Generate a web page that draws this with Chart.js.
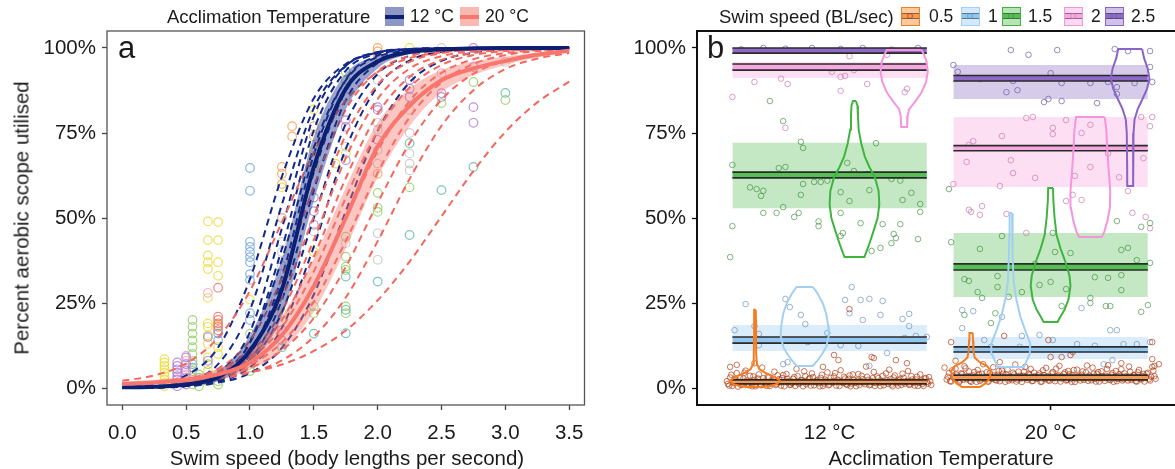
<!DOCTYPE html>
<html>
<head>
<meta charset="utf-8">
<script src="https://cdn.jsdelivr.net/npm/chart.js@4.4.1/dist/chart.umd.min.js"></script>
<style>
  html, body { margin: 0; padding: 0; background: #fff; overflow: hidden; width: 1175px; height: 469px; }
  body { position: relative; font-family: "Liberation Sans", Arial, Helvetica, sans-serif; color: #1a1a1a; }
  canvas { position: absolute; top: 0; }
  #chartA { left: 0; }
  #chartB { left: 590px; }
  .ltitle { position: absolute; white-space: nowrap; font-size: 18.5px; line-height: 19px; }
  .ltxt { position: absolute; white-space: nowrap; font-size: 17.5px; line-height: 19px; }
  .axt { position: absolute; white-space: nowrap; font-size: 20.5px; line-height: 21px; transform: translateX(-50%); }
  .ytitle { position: absolute; white-space: nowrap; font-size: 20.5px; line-height: 21px; transform: translate(-50%, -50%) rotate(-90deg); }
  .tag { position: absolute; font-size: 31px; line-height: 31px; }
  .key { position: absolute; width: 19px; height: 19px; box-sizing: border-box; }
  .key .bar { position: absolute; left: 0; right: 0; }
  .key .dot { position: absolute; left: 5px; top: 5px; width: 4px; height: 4px; border-radius: 50%; border: 1px solid; box-sizing: content-box; }
</style>
</head>
<body>
<canvas id="chartA" width="590" height="469"></canvas>
<canvas id="chartB" width="597" height="469"></canvas>

<div class="ltitle" style="left:167px; top:7px;">Acclimation Temperature</div>
<div class="key" style="left:385px; top:7px; background:#8d97c4;"><div class="bar" style="top:7.5px; height:4px; background:#0b2072;"></div></div>
<div class="ltxt" style="left:410px; top:7px;">12 °C</div>
<div class="key" style="left:460px; top:7px; background:#f9b9b3;"><div class="bar" style="top:7.5px; height:4px; background:#f8766d;"></div></div>
<div class="ltxt" style="left:485px; top:7px;">20 °C</div>

<div class="ltitle" style="left:719px; top:7px;">Swim speed (BL/sec)</div>
<div id="speedKeys"></div>

<div class="tag" style="left:118px; top:32px;">a</div>
<div class="tag" style="left:707px; top:32px;">b</div>

<div class="ytitle" style="left:21px; top:218px;">Percent aerobic scope utilised</div>
<div class="axt" style="left:347px; top:447px;">Swim speed (body lengths per second)</div>
<div class="axt" style="left:941px; top:447px;">Acclimation Temperature</div>

<script>
// ---------- shared ticks ----------
const PCT_TICKS = [0, 25, 50, 75, 100];
const PCT_TICK_LABELS = ['0%', '25%', '50%', '75%', '100%'];

// ---------- panel a: swim speed vs aerobic scope ----------
const SPEED_TICKS = [0, 0.5, 1, 1.5, 2, 2.5, 3, 3.5];
const SPEED_TICK_LABELS = ['0.0', '0.5', '1.0', '1.5', '2.0', '2.5', '3.0', '3.5'];
const SPEED_GRID = [0, 0.25, 0.5, 0.75, 1, 1.25, 1.5, 1.75, 2, 2.25, 2.5, 2.75, 3, 3.25, 3.5];

// population curves with confidence ribbons (percent)
const MEAN_12 = [0.2, 0.4, 1.0, 3.2, 11, 29, 65, 88, 96, 98.8, 99.6, 99.9, 100, 100, 100];
const LOW_12  = [0.1, 0.2, 0.6, 2.0, 7.5, 21, 55, 82, 94, 98.2, 99.3, 99.8, 100, 100, 100];
const HIGH_12 = [0.4, 0.8, 1.7, 5.0, 15.5, 38, 74, 92.5, 97.6, 99.3, 99.8, 100, 100, 100, 100];
const MEAN_20 = [1.2, 1.6, 2.4, 4.0, 7.5, 15.5, 30, 50, 71, 83, 90.5, 94, 96.2, 98, 99.2];
const LOW_20  = [0.7, 1.0, 1.6, 2.8, 5.3, 11, 22.5, 41, 62, 77, 87, 92, 95, 97.3, 98.8];
const HIGH_20 = [1.8, 2.4, 3.4, 5.6, 10.5, 21, 38, 59, 78, 88, 93.5, 96, 97.5, 98.7, 99.5];

// individual fish curves
const FISH_12 = [
  [0.3, 1.1, 3.7, 11.9, 32.1, 62.2, 85.2, 95.3, 98.6, 99.6, 99.9, 100, 100, 100, 100],
  [0.1, 0.5, 1.9, 7.0, 23, 54, 82.3, 94.8, 98.7, 99.7, 99.9, 100, 100, 100, 100],
  [0.05, 0.2, 1.0, 4.3, 16.5, 47, 79.9, 94.7, 98.8, 99.7, 100, 100, 100, 100, 100],
  [0.04, 0.2, 0.8, 3.4, 13.5, 41, 75.8, 93.3, 98.4, 99.6, 99.9, 100, 100, 100, 100],
  [0.06, 0.25, 1.0, 3.7, 13.3, 37.8, 70.7, 90.5, 97.4, 99.3, 99.8, 100, 100, 100, 100],
  [0.03, 0.12, 0.55, 2.4, 9.8, 32.7, 68.6, 90.7, 97.8, 99.5, 99.9, 100, 100, 100, 100],
  [0.05, 0.18, 0.7, 2.7, 10, 30.4, 63.4, 87.3, 96.4, 99.1, 99.8, 100, 100, 100, 100],
  [0.04, 0.15, 0.56, 2.2, 8.2, 25.9, 58.2, 84.6, 95.6, 98.9, 99.7, 99.9, 100, 100, 100],
  [0.06, 0.19, 0.67, 2.3, 7.6, 22.3, 50, 77.7, 92.4, 97.7, 99.3, 99.8, 100, 100, 100],
  [0.06, 0.18, 0.6, 1.9, 6.1, 17.7, 41.6, 70.3, 88.7, 96.3, 98.9, 99.7, 99.9, 100, 100],
  [0.07, 0.2, 0.57, 1.6, 4.4, 11.8, 27.5, 52, 75.6, 89.9, 96.2, 98.6, 99.5, 99.8, 100]
];
const FISH_20 = [
  [2.1, 3.7, 7.2, 14.8, 28.6, 48.8, 69.3, 84.5, 92.9, 97, 98.7, 99.4, 99.8, 99.9, 100],
  [1.2, 1.5, 2.6, 5.7, 14, 32.4, 59.3, 81.8, 93.2, 97.7, 99.2, 99.7, 99.9, 100, 100],
  [1.2, 1.5, 2.5, 5.1, 11.8, 26.6, 50.5, 74.4, 89.2, 95.9, 98.5, 99.5, 99.8, 99.9, 100],
  [1.2, 1.5, 2.4, 4.6, 10.2, 22.6, 43.6, 67.6, 85, 93.9, 97.6, 99.1, 99.7, 99.9, 100],
  [1.2, 1.5, 2.3, 4.4, 9.3, 20, 38.6, 61.7, 80.6, 91.5, 96.5, 98.6, 99.4, 99.8, 99.9],
  [1.2, 1.6, 2.4, 4.3, 8.6, 17.9, 34.3, 55.9, 75.6, 88.4, 95, 97.9, 99.1, 99.6, 99.85],
  [1.3, 1.6, 2.4, 4.1, 7.9, 15.9, 30, 49.7, 69.7, 84.4, 92.7, 96.7, 98.5, 99.4, 99.7],
  [1.2, 1.5, 2.2, 3.7, 6.8, 13.4, 25.4, 43.2, 63.3, 79.6, 89.9, 95.3, 97.9, 99.1, 99.6],
  [1.2, 1.5, 2.1, 3.4, 5.9, 11.1, 20.6, 35.6, 54.4, 72, 84.8, 92.4, 96.3, 98.3, 99.2],
  [1.2, 1.4, 1.8, 2.7, 4.6, 8.1, 15.1, 26.6, 43.2, 61.5, 77.1, 87.6, 93.8, 96.9, 98.5],
  [1.4, 1.7, 2.2, 3.1, 4.6, 6.9, 10.9, 16.9, 25.8, 37.2, 50.5, 63.8, 75.3, 84, 90.1]
];

// measured trials [speed, percent], grouped by fish colour
const TRIALS_YELLOW = [[0.33,0.5],[0.33,1.5],[0.33,2.5],[0.33,3.5],[0.33,4.5],[0.33,5.5],[0.33,6.5],[0.33,7.5],[0.33,8.5],
  [0.67,49],[0.67,43.5],[0.67,39],[0.67,37],[0.67,35],[0.67,26.5],[0.67,19],[0.67,18],[0.67,15.5],[0.67,13],[0.67,9],[0.67,5],
  [0.75,48.8],[0.75,43.5],[0.75,37],[0.75,33],[0.75,18.5],[0.75,12],[0.75,10],
  [1.0,26],[1.25,59],[1.25,50],[1.25,22],[1.5,82],[1.5,70],[1.5,67],[1.5,65],[1.5,40],[1.75,69],[1.67,66],[2.25,100]];
const TRIALS_ORANGE = [[1.25,65],[1.25,63],[1.25,60],[1.33,77],[1.33,74],[1.5,77],[1.5,74],[2.0,100],[2.0,99],[2.0,97.5],[2.0,63]];
const TRIALS_BLUE = [[0.55,6],[0.55,7],[0.6,3],[0.75,16],[0.75,14],[1.0,64.7],[1.0,58],[1.0,43],[1.0,41.5],[1.0,40],[1.0,38.5],
  [1.0,37],[1.0,33.5],[1.0,31.8],[1.0,22],[1.0,20]];
const TRIALS_GREEN = [[0.55,1],[0.55,3],[0.55,5],[0.55,8],[0.55,10],[0.55,12],[0.55,14],[0.55,16],[0.55,18],[0.55,20],
  [0.6,0.5],[0.6,2],[0.6,4],[0.67,7],[0.67,2],[0.75,4],[0.75,2],[0.75,1],[1.0,16],[1.0,6],[1.0,5],[1.5,24],[1.5,22],
  [1.75,93],[1.75,90.6],[1.75,44.5],[1.75,38.6],[1.75,35.7],[1.75,34.7],[1.75,24],[1.75,22],[2.0,57.4],[2.0,53],[2.0,51.8],
  [2.25,59],[2.5,83.8],[2.75,90],[3.0,84.7]];
const TRIALS_PURPLE = [[0.43,0.5],[0.43,1.5],[0.43,2.5],[0.43,3.5],[0.43,4.5],[0.43,5.5],[0.43,6.5],[0.43,7.5],
  [0.5,1],[0.5,3],[0.5,5],[0.5,7],[0.5,9],[0.67,15],[0.67,8],[1.0,10],[1.25,17],[1.25,14],[1.5,56],[1.5,52],[1.5,48],
  [1.75,78.8],[1.75,76.8],[1.75,67],[2.0,82.6],[2.0,81.8],[2.0,73],[2.25,90.6],[2.25,88],[2.25,85.6],[2.5,86.7],[2.5,85.6],
  [2.75,100],[2.75,94.4],[2.75,82.6],[2.75,78]];
const TRIALS_PINK = [[0.5,2],[0.5,4],[0.5,6],[0.5,8],[0.5,9.5],[0.67,28],[1.25,50],[2.5,92.6]];
const TRIALS_TEAL = [[1.25,12],[1.5,16],[1.75,32.8],[1.75,23],[1.75,16.1],[2.0,31.3],[2.25,72],[2.25,45],[2.5,58.2],[2.75,65],[3.0,86.8]];
const TRIALS_GREY = [[1.25,43],[1.25,40],[1.25,36],[1.5,46],[1.75,85.6],[1.75,71],[1.75,42.6],[2.0,90.6],[2.0,78],[2.0,76],
  [2.0,70],[2.0,66],[2.0,45.5],[2.0,37.7],[2.25,81.8],[2.25,75],[2.25,69],[2.25,66],[2.25,64],[2.5,100],[3.0,95.9]];
const TRIALS_RED = [[0.75,29.5],[0.75,21],[0.75,20],[0.75,19],[0.75,18],[0.75,17]];

// ---------- panel b: acclimation temperature x swim speed ----------
const TEMPS = ['12 °C', '20 °C'];
const SWIM_SPEEDS = ['0.5', '1', '1.5', '2', '2.5'];
// mean confidence band and spread band per swim speed (percent)
const MEAN_CI_12 = [[1.2,2.4],[13.2,15.0],[61.8,63.5],[93.5,95.3],[98.5,100]];
const SPREAD_12  = [[0.6,3.0],[10.9,18.5],[52.9,72.1],[91.2,95.9],[98.5,100]];
const MEAN_CI_20 = [[2.4,3.8],[10.6,12.1],[34.7,36.5],[69.8,71.3],[90.3,91.9]];
const SPREAD_20  = [[1.8,4.4],[8.5,15.0],[26.8,45.6],[59.1,79.7],[85.0,95.0]];

// violin outlines: [percent, relative half-width]; no violin for 2.5 at 12 °C
const VIOLIN_12 = [
  [[23,0.03],[20,0.04],[15,0.04],[10,0.05],[7,0.08],[5.5,0.18],[4.5,0.4],[3.5,0.72],[2.5,0.95],[2,1.0],[1.2,0.9],[0.6,0.6],[0.3,0.35]],
  [[29.7,0.33],[28,0.5],[25,0.72],[22,0.86],[18,0.95],[15.5,0.97],[12,0.86],[10,0.7],[8,0.5],[6.5,0.32]],
  [[84.4,0.06],[83,0.12],[80,0.14],[76,0.17],[72,0.27],[68,0.42],[65,0.6],[62,0.82],[58,0.97],[54,1.0],[50,0.93],[46,0.76],[42,0.58],[38.5,0.4]],
  [[99.4,0.7],[98,0.8],[96,0.9],[93,0.95],[90,0.88],[87,0.7],[84,0.42],[82,0.2],[80,0.14],[76.8,0.12]],
  null
];
const VIOLIN_20 = [
  [[16.2,0.08],[14,0.1],[11,0.12],[9,0.18],[7.5,0.45],[6.5,0.8],[5,1.0],[3,0.95],[1.5,0.75],[0.3,0.45]],
  [[51.5,0.06],[45,0.08],[38,0.1],[31,0.15],[26,0.28],[21,0.48],[17,0.72],[13,0.98],[10,0.95],[8,0.8],[6.2,0.65]],
  [[58.8,0.12],[55,0.14],[50,0.2],[45,0.3],[41,0.5],[37,0.75],[33,0.95],[30,1.0],[26,0.9],[23,0.7],[21,0.5],[19.4,0.35]],
  [[79.7,0.72],[76,0.8],[70,0.85],[64,0.92],[58,1.0],[53,0.98],[49,0.85],[46,0.7],[44.4,0.57]],
  [[99.7,0.6],[97,0.7],[94,0.88],[91,0.97],[88,0.85],[85,0.62],[82,0.38],[79,0.22],[75,0.17],[65,0.15],[59.4,0.15]]
];

// individual trials [temperature axis position, percent] per swim speed
const OBS_12_SPEED05 = [
  [0.54,1.2],[0.55,3.1],[0.56,0.6],[0.57,2.2],[0.58,4.4],[0.59,1.6],[0.60,0.9],[0.61,2.8],[0.62,5.1],[0.63,1.3],[0.64,3.6],[0.65,0.5],
  [0.66,2.4],[0.67,1.8],[0.68,4.0],[0.69,0.8],[0.70,2.9],[0.71,1.4],[0.72,3.3],[0.73,0.6],[0.74,2.0],[0.75,4.8],[0.76,1.1],[0.77,2.6],
  [0.78,0.7],[0.79,3.8],[0.80,1.9],[0.81,2.7],[0.82,0.9],[0.83,1.5],[0.84,3.2],[0.85,5.6],[0.86,1.2],[0.87,2.3],[0.88,0.5],[0.89,3.5],
  [0.90,1.7],[0.91,2.9],[0.92,4.3],[0.93,0.8],[0.94,2.1],[0.95,1.4],[0.96,3.0],[0.97,0.6],[0.98,2.5],[0.99,4.6],[1.00,1.0],[1.01,1.9],
  [1.02,3.4],[1.03,0.7],[1.04,2.2],[1.05,5.2],[1.06,1.5],[1.07,2.8],[1.08,0.9],[1.09,3.7],[1.10,1.3],[1.11,2.4],[1.12,0.5],[1.13,4.1],
  [1.14,1.8],[1.15,2.6],[1.16,1.1],[1.17,3.3],[1.18,0.8],[1.19,2.0],[1.20,4.7],[1.21,1.4],[1.22,2.9],[1.23,0.6],[1.24,3.6],[1.25,1.7],
  [1.26,2.3],[1.27,5.4],[1.28,1.0],[1.29,3.1],[1.30,1.9],[1.31,0.7],[1.32,2.7],[1.33,4.2],[1.34,1.3],[1.35,2.1],[1.36,0.9],[1.37,3.5],
  [1.38,1.6],[1.39,2.5],[1.40,0.6],[1.41,4.0],[1.42,1.2],[1.43,2.8],[1.44,1.8],[1.45,3.2],[1.46,0.9],
  [0.535,2.0],[0.545,0.7],[0.555,3.9],[0.565,1.5],[0.575,2.6],[0.585,0.4],[0.595,3.0],[0.605,1.1],[0.615,4.5],[0.625,2.2],[0.635,0.8],
  [0.645,1.6],[0.655,3.4],[0.665,0.5],[0.675,2.8],[0.685,1.2],[0.695,6.0],[0.705,1.9],[0.715,0.6],[0.725,3.1],[0.735,1.4],[0.745,2.4],
  [0.755,0.9],[0.765,3.7],[0.775,1.7],[0.785,2.9],[0.795,0.5],[0.805,4.1],[0.815,2.0],[0.825,1.0],[0.835,2.7],[0.845,0.6],[0.855,3.5],
  [0.865,1.5],[0.875,2.3],[0.885,4.9],[0.895,1.1],[0.905,2.6],[0.915,0.7],[0.925,3.2],[0.935,1.8],[0.945,2.4],[0.955,0.5],[0.965,3.9],
  [0.975,1.3],[0.985,2.1],[0.995,0.8],[1.005,3.0],[1.015,1.6],[1.025,4.4],[1.035,2.5],[1.045,0.6],[1.055,1.9],[1.065,3.3],[1.075,1.1],
  [1.085,2.7],[1.095,0.5],[1.105,4.0],[1.115,1.5],[1.125,2.2],[1.135,0.9],[1.145,3.6],[1.155,1.7],[1.165,6.3],[1.175,2.4],[1.185,1.0],
  [1.195,2.9],[1.205,0.6],[1.215,3.4],[1.225,1.6],[1.235,2.1],[1.245,0.8],[1.255,4.3],[1.265,1.2],[1.275,2.6],[1.285,0.5],[1.295,3.7],
  [1.305,1.4],[1.315,2.3],[1.325,0.9],[1.335,3.0],[1.345,1.8],[1.355,5.0],[1.365,1.1],[1.375,2.5],[1.385,0.7],[1.395,3.3],[1.405,1.5],
  [1.415,2.2],[1.425,0.6],[1.435,2.9],[1.445,1.3],[1.455,2.0],
  [1.02,9.7],[1.04,8.2],[1.19,9.1],[1.20,8.8],[1.09,23.2],[1.30,8.2],[1.35,7.3],[0.97,6.2],[0.66,7.3],[0.55,6.2],[0.58,6.8]
];
const OBS_12_SPEED1 = [[1.10,29.7],[1.07,25.9],[1.14,25.9],[1.18,26.2],[1.24,25.6],[0.62,24.7],[0.80,26.2],[0.82,23.8],[0.87,21.5],
  [0.89,18.8],[0.57,17],[0.66,18.2],[0.68,15.9],[0.68,12.6],[1.09,22],[1.15,20],[1.23,21.5],[1.33,20.3],[1.36,21.8],[1.36,18.2],
  [1.34,14.7],[1.39,15.3],[1.44,15],[0.90,13.5],[0.91,13.8],[0.99,16.2],[1.05,12.6],[1.13,12.4],[1.26,10.3],[0.79,7],[0.81,7.6],[1.18,6.5]];
const OBS_12_SPEED15 = [[0.73,84.4],[0.79,78.5],[0.87,72.4],[0.88,70.6],[1.21,72],[0.56,65.6],[0.77,64.7],[0.80,65],[1.08,66.2],
  [1.11,63.8],[1.17,62.9],[1.23,62.6],[1.28,61.5],[1.32,61],[0.64,59],[0.67,58.5],[0.70,58],[0.69,56.5],[0.88,60],[0.93,60.6],
  [0.96,60.6],[0.99,61],[0.87,56.8],[1.05,57.6],[1.09,55],[1.18,58.2],[1.33,55.3],[1.37,57.4],[1.41,54.1],[1.41,51.8],[0.70,51.5],
  [0.76,51.5],[0.79,53.2],[0.86,51.5],[0.84,50.3],[1.05,51.5],[0.56,47.6],[0.55,38.5],[0.95,49],[0.95,47.6],[1.14,48.5],[1.24,48.2],
  [1.32,48.2],[1.06,45.6],[1.05,44.7],[1.29,45.3],[1.30,44.1],[1.40,43.8],[1.28,42.6],[1.19,40.3],[1.23,41.2]];
const OBS_12_SPEED2 = [[1.09,97.6],[1.26,98],[1.01,94],[1.01,93],[1.05,91.5],[1.07,91.8],[1.11,93.5],[0.66,90],[0.78,91],[0.81,89.4],
  [0.56,85.6],[1.05,87.4],[1.17,89.4],[1.34,87],[1.35,88],[0.80,76.5],[1.24,99.2]];
const OBS_12_SPEED25 = [[0.6,99.6],[0.7,100],[0.8,99.8],[0.92,100],[1.05,99.7],[1.15,100],[1.28,99.5],[1.4,100]];

const OBS_20_SPEED05 = [
  [1.53,2.5],[1.54,4.4],[1.55,1.9],[1.56,3.5],[1.57,5.7],[1.58,2.9],[1.59,2.2],[1.60,4.1],[1.61,6.4],[1.62,2.6],[1.63,4.9],[1.64,1.8],
  [1.65,3.7],[1.66,3.1],[1.67,5.3],[1.68,2.1],[1.69,4.2],[1.70,2.7],[1.71,4.6],[1.72,1.9],[1.73,3.3],[1.74,6.1],[1.75,2.4],[1.76,3.9],
  [1.77,2.0],[1.78,5.1],[1.79,3.2],[1.80,4.0],[1.81,2.2],[1.82,2.8],[1.83,4.5],[1.84,6.9],[1.85,2.5],[1.86,3.6],[1.87,1.8],[1.88,4.8],
  [1.89,3.0],[1.90,4.2],[1.91,5.6],[1.92,2.1],[1.93,3.4],[1.94,2.7],[1.95,4.3],[1.96,1.9],[1.97,3.8],[1.98,5.9],[1.99,2.3],[2.00,3.2],
  [2.01,4.7],[2.02,2.0],[2.03,3.5],[2.04,6.5],[2.05,2.8],[2.06,4.1],[2.07,2.2],[2.08,5.0],[2.09,2.6],[2.10,3.7],[2.11,1.8],[2.12,5.4],
  [2.13,3.1],[2.14,3.9],[2.15,2.4],[2.16,4.6],[2.17,2.1],[2.18,3.3],[2.19,6.0],[2.20,2.7],[2.21,4.2],[2.22,1.9],[2.23,4.9],[2.24,3.0],
  [2.25,3.6],[2.26,6.7],[2.27,2.3],[2.28,4.4],[2.29,3.2],[2.30,2.0],[2.31,4.0],[2.32,5.5],[2.33,2.6],[2.34,3.4],[2.35,2.2],[2.36,4.8],
  [2.37,2.9],[2.38,3.8],[2.39,1.9],[2.40,5.3],[2.41,2.5],[2.42,4.1],[2.43,3.1],[2.44,4.5],[2.45,2.2],[2.46,6.2],[2.47,3.5],
  [1.535,3.3],[1.545,2.0],[1.555,5.2],[1.565,2.8],[1.575,3.9],[1.585,1.7],[1.595,4.3],[1.605,2.4],[1.615,5.8],[1.625,3.5],[1.635,2.1],
  [1.645,2.9],[1.655,4.7],[1.665,1.8],[1.675,4.1],[1.685,2.5],[1.695,7.0],[1.705,3.2],[1.715,1.9],[1.725,4.4],[1.735,2.7],[1.745,3.7],
  [1.755,2.2],[1.765,5.0],[1.775,3.0],[1.785,4.2],[1.795,1.8],[1.805,5.4],[1.815,3.3],[1.825,2.3],[1.835,4.0],[1.845,1.9],[1.855,4.8],
  [1.865,2.8],[1.875,3.6],[1.885,6.2],[1.895,2.4],[1.905,3.9],[1.915,2.0],[1.925,4.5],[1.935,3.1],[1.945,3.7],[1.955,1.8],[1.965,5.2],
  [1.975,2.6],[1.985,3.4],[1.995,2.1],[2.005,4.3],[2.015,2.9],[2.025,5.7],[2.035,3.8],[2.045,1.9],[2.055,3.2],[2.065,4.6],[2.075,2.4],
  [2.085,4.0],[2.095,1.8],[2.105,5.3],[2.115,2.8],[2.125,3.5],[2.135,2.2],[2.145,4.9],[2.155,3.0],[2.165,6.6],[2.175,3.7],[2.185,2.3],
  [2.195,4.2],[2.205,1.9],[2.215,4.7],[2.225,2.9],[2.235,3.4],[2.245,2.1],[2.255,5.6],[2.265,2.5],[2.275,3.9],[2.285,1.8],[2.295,5.0],
  [2.305,2.7],[2.315,3.6],[2.325,2.2],[2.335,4.3],[2.345,3.1],[2.355,6.3],[2.365,2.4],[2.375,3.8],[2.385,2.0],[2.395,4.6],[2.405,2.8],
  [2.415,3.5],[2.425,1.9],[2.435,4.2],[2.445,2.6],[2.455,3.3],[2.465,5.1],[2.475,2.7],
  [1.79,15.3],[1.99,14.1],[1.55,13.5],[2.46,13.5],[2.09,9.7],[2.05,9.1],[2.10,10.6],[2.0,9.1],[2.32,7.3],[2.47,6.5],[1.77,7.6],
  [2.46,8.5],[1.57,8.0],[2.49,7.0],[1.52,6.0]
];
const OBS_20_SPEED1 = [[1.60,22.9],[1.65,22.6],[1.60,17.6],[1.78,20.9],[1.87,15.3],[1.70,14.1],[1.73,12.1],[1.86,12.1],[1.95,15.6],
  [2.01,14.1],[2.12,12.9],[2.20,12.4],[2.14,23.5],[2.27,17],[2.30,17],[2.33,12.9],[2.39,12.9],[2.45,13.5],[2.28,8.2],[2.24,7]];
const OBS_20_SPEED15 = [[1.54,58.5],[1.55,42.9],[1.68,40.9],[1.61,32],[1.63,31.5],[1.67,28.2],[1.69,26.5],[1.76,29.7],[1.76,32.9],
  [1.81,26.8],[1.87,28.2],[1.95,30.3],[2.0,31.2],[2.0,35.6],[2.02,40],[2.01,45.6],[2.09,39.7],[2.07,29.1],[1.93,36.5],[2.05,24.1],
  [2.18,26.5],[2.18,25],[2.20,32.6],[2.26,32.4],[2.32,33.2],[2.32,28.8],[2.32,40.6],[2.35,41.2],[2.39,37.6],[2.45,36.8],[2.25,24.1],
  [2.27,24.1],[2.41,22.4],[2.44,24.4],[2.41,47.4],[2.45,48.5],[2.30,49.1],[1.78,44.7],[1.75,22],[1.73,19.1],[1.61,21.5]];
const OBS_20_SPEED2 = [[1.89,79.4],[1.92,79.7],[2.07,78.8],[2.18,77.4],[2.41,79.7],[2.46,79.7],[2.45,77],[2.01,76.5],[2.01,74.7],
  [2.14,75],[1.78,74.1],[1.65,72.6],[1.63,71.5],[1.62,66.5],[1.82,67],[1.83,63.2],[1.93,61.8],[2.11,62.4],[2.18,65],[2.31,62],
  [2.26,69],[2.42,67.6],[1.77,59.4],[1.56,60],[2.10,56.8],[2.07,55],[2.14,55.3],[2.35,57.9],[1.63,52.4],[1.64,51.8],[1.69,53.5],
  [1.68,50.9],[2.37,51.5],[2.43,50.3],[1.80,51.2],[1.89,45.6],[2.45,47]];
const OBS_20_SPEED25 = [[1.82,99.4],[1.90,98],[2.03,99.4],[2.29,99.7],[2.35,99.1],[2.45,99.1],[1.56,95],[1.58,93],[1.68,90.9],
  [1.83,90.3],[2.0,92.6],[2.05,89.7],[2.18,89.7],[2.26,90],[2.30,88.5],[2.30,86.5],[2.38,89.7],[2.45,94.4],[2.46,90],[1.80,87],
  [1.85,87.6],[1.97,84.1],[1.99,85],[2.05,84.4],[2.21,83.8]];

// ---------- styling ----------
const FONT = '"Liberation Sans", Arial, Helvetica, sans-serif';
const INK = '#1a1a1a';
const NAVY = '#0b2072', NAVY_DASH = '#12288a', NAVY_FILL = 'rgba(30,52,140,0.45)';
const SALMON = '#f8766d', SALMON_DASH = '#f4675d', SALMON_FILL = 'rgba(248,118,109,0.42)';
const TRIAL_COLOURS = {
  yellow: 'rgba(236,216,50,0.8)', orange: 'rgba(245,150,70,0.75)', blue: 'rgba(90,150,210,0.7)',
  green: 'rgba(140,200,90,0.75)', purple: 'rgba(160,100,200,0.7)', pink: 'rgba(240,150,200,0.75)',
  teal: 'rgba(80,180,160,0.75)', grey: 'rgba(175,175,175,0.6)', red: 'rgba(235,100,90,0.75)'
};
const SPEED_LINE   = ['#f47d20', '#a3d0f2', '#3fb53f', '#f795dc', '#8a64c6'];
const SPEED_SPREAD = ['rgba(247,150,70,0.30)', 'rgba(160,205,245,0.38)', 'rgba(90,190,90,0.36)', 'rgba(250,170,225,0.38)', 'rgba(140,110,195,0.36)'];
const SPEED_CI     = ['#f59a52', '#90c6ef', '#55bf55', '#f6a8e0', '#8e6ac8'];
const SPEED_POINT  = ['rgba(175,55,15,0.68)', 'rgba(100,140,185,0.65)', 'rgba(60,140,60,0.65)', 'rgba(205,120,175,0.7)', 'rgba(110,90,165,0.7)'];
const SPEED_KEY_FILL = ['#fbc9a0', '#d4eafb', '#b9e4b6', '#fcd8f1', '#cfc2e6'];

// ---------- legend keys for swim speed ----------
(function () {
  const lefts = [901, 961, 1002, 1064, 1105];
  const labelLefts = [929, 988, 1028, 1091, 1131];
  const holder = document.getElementById('speedKeys');
  SWIM_SPEEDS.forEach((s, i) => {
    const k = document.createElement('div');
    k.className = 'key';
    k.style.left = lefts[i] + 'px'; k.style.top = '7px';
    k.style.background = SPEED_KEY_FILL[i];
    k.style.border = '1.5px solid ' + SPEED_LINE[i];
    const bar = document.createElement('div');
    bar.className = 'bar';
    bar.style.top = '5px'; bar.style.height = '4px'; bar.style.background = SPEED_CI[i];
    bar.style.borderTop = '1px solid rgba(40,40,40,0.5)'; bar.style.borderBottom = '1px solid rgba(40,40,40,0.5)';
    k.appendChild(bar);
    const dot = document.createElement('div');
    dot.className = 'dot';
    dot.style.borderColor = SPEED_POINT[i];
    k.appendChild(dot);
    holder.appendChild(k);
    const t = document.createElement('div');
    t.className = 'ltxt';
    t.style.left = labelLefts[i] + 'px'; t.style.top = '7px';
    t.textContent = s;
    holder.appendChild(t);
  });
})();

// ---------- helpers ----------
const curve = (ys) => SPEED_GRID.map((x, i) => ({ x, y: ys[i] }));
const pairs = (arr) => arr.map(([x, y]) => ({ x, y }));

const frame = {
  id: 'frame',
  afterDatasetsDraw(chart, args, opts) {
    const { ctx, chartArea: a } = chart;
    ctx.save();
    ctx.strokeStyle = opts.color;
    ctx.lineWidth = opts.width;
    ctx.strokeRect(a.left, a.top, a.right - a.left, a.bottom - a.top);
    ctx.restore();
  }
};

// fixed axis boxes so both panels keep the same plotting rectangle
const fixX = (s) => { s.height = 64; s.paddingLeft = 0; s.paddingRight = 0; };
const fixY = (s) => { s.width = 107; s.paddingTop = 0; s.paddingBottom = 0; };

function pctAxis(tickColor) {
  return {
    type: 'linear', min: -5, max: 105,
    afterBuildTicks: (s) => { s.ticks = PCT_TICKS.map(v => ({ value: v })); },
    afterFit: fixY,
    ticks: { callback: (v, i) => PCT_TICK_LABELS[i], font: { size: 20.5, family: FONT }, color: INK, padding: 6 },
    grid: { drawOnChartArea: false, drawTicks: true, tickLength: 5, tickColor: tickColor, tickWidth: 1.3 },
    border: { display: false }
  };
}

function lineDs(points, color, width, dash, order, extra) {
  return Object.assign({
    data: points, showLine: true, pointRadius: 0, pointHoverRadius: 0,
    borderColor: color, borderWidth: width, borderDash: dash || [],
    cubicInterpolationMode: 'monotone', fill: false, order
  }, extra || {});
}

// ---------- panel a datasets ----------
const dsA = [];
const trialGroups = [
  [TRIALS_GREY, 'grey'], [TRIALS_TEAL, 'teal'], [TRIALS_PINK, 'pink'], [TRIALS_PURPLE, 'purple'], [TRIALS_GREEN, 'green'],
  [TRIALS_BLUE, 'blue'], [TRIALS_RED, 'red'], [TRIALS_ORANGE, 'orange'], [TRIALS_YELLOW, 'yellow']
];
trialGroups.forEach(([pts, c]) => dsA.push({
  data: pairs(pts), showLine: false, pointRadius: 4.3, pointHoverRadius: 4.3, pointBorderWidth: 1.2,
  pointBackgroundColor: 'rgba(0,0,0,0)', pointBorderColor: TRIAL_COLOURS[c], order: 60
}));
FISH_12.forEach(ys => dsA.push(lineDs(curve(ys), NAVY_DASH, 2, [7, 5], 51)));
FISH_20.forEach(ys => dsA.push(lineDs(curve(ys), SALMON_DASH, 2, [7, 5], 50)));
dsA.push(lineDs(curve(LOW_12), 'rgba(0,0,0,0)', 0.01, null, 41));
dsA.push(lineDs(curve(HIGH_12), 'rgba(0,0,0,0)', 0.01, null, 41, { fill: '-1', backgroundColor: NAVY_FILL }));
dsA.push(lineDs(curve(LOW_20), 'rgba(0,0,0,0)', 0.01, null, 40));
dsA.push(lineDs(curve(HIGH_20), 'rgba(0,0,0,0)', 0.01, null, 40, { fill: '-1', backgroundColor: SALMON_FILL }));
dsA.push(lineDs(curve(MEAN_12), NAVY, 4, null, 31));
dsA.push(lineDs(curve(MEAN_20), SALMON, 4, null, 30));

new Chart(document.getElementById('chartA'), {
  type: 'scatter',
  data: { datasets: dsA },
  options: {
    responsive: false, animation: false, devicePixelRatio: 1,
    layout: { padding: { top: 31, right: 0, bottom: 0, left: 0 } },
    plugins: { legend: { display: false }, tooltip: { enabled: false }, frame: { color: '#555', width: 1.3 } },
    scales: {
      x: {
        type: 'linear', min: -0.12, max: 3.62,
        afterBuildTicks: (s) => { s.ticks = SPEED_TICKS.map(v => ({ value: v })); },
        afterFit: fixX,
        ticks: { callback: (v, i) => SPEED_TICK_LABELS[i], font: { size: 20.5, family: FONT }, color: INK, padding: 11, maxRotation: 0, autoSkip: false },
        grid: { drawOnChartArea: false, drawTicks: true, tickLength: 5, tickColor: '#444', tickWidth: 1.3 },
        border: { display: false }
      },
      y: pctAxis('#444')
    }
  },
  plugins: [frame]
});

// ---------- panel b datasets ----------
const DODGE = 0.9, BAND_HALF = 0.44;
const dsB = [];
function addTemp(center, ci, spread, violins, obs) {
  const present = violins.map((v, i) => v ? i : -1).filter(i => i >= 0);
  const slot = DODGE / present.length;
  // spread bands
  spread.forEach(([lo, hi], i) => {
    dsB.push(lineDs([{ x: center - BAND_HALF, y: lo }, { x: center + BAND_HALF, y: lo }], 'rgba(0,0,0,0)', 0.01, null, 80));
    dsB.push(lineDs([{ x: center - BAND_HALF, y: hi }, { x: center + BAND_HALF, y: hi }], 'rgba(0,0,0,0)', 0.01, null, 80,
      { fill: '-1', backgroundColor: SPEED_SPREAD[i] }));
  });
  // trials
  obs.forEach((pts, i) => dsB.push({
    data: pairs(pts), showLine: false, pointRadius: 2.8, pointHoverRadius: 2.8, pointBorderWidth: 1,
    pointBackgroundColor: 'rgba(0,0,0,0)', pointBorderColor: SPEED_POINT[i], order: 70
  }));
  // mean confidence bands
  ci.forEach(([lo, hi], i) => {
    dsB.push(lineDs([{ x: center - BAND_HALF, y: lo }, { x: center + BAND_HALF, y: lo }], '#2a2a2a', 1.6, null, 60));
    dsB.push(lineDs([{ x: center - BAND_HALF, y: hi }, { x: center + BAND_HALF, y: hi }], '#2a2a2a', 1.6, null, 60,
      { fill: '-1', backgroundColor: SPEED_CI[i] }));
  });
  // violins, dodged across the speeds that have one
  present.forEach((i, k) => {
    const cx = center - DODGE / 2 + slot * (k + 0.5);
    const half = slot / 2;
    const prof = violins[i];
    const right = prof.map(([p, w]) => ({ x: cx + w * half, y: p }));
    const left = prof.slice().reverse().map(([p, w]) => ({ x: cx - w * half, y: p }));
    dsB.push(lineDs(right.concat(left, [right[0]]), SPEED_LINE[i], 2, null, 50,
      { cubicInterpolationMode: 'default', tension: 0 }));
  });
}
addTemp(1, MEAN_CI_12, SPREAD_12, VIOLIN_12, [OBS_12_SPEED05, OBS_12_SPEED1, OBS_12_SPEED15, OBS_12_SPEED2, OBS_12_SPEED25]);
addTemp(2, MEAN_CI_20, SPREAD_20, VIOLIN_20, [OBS_20_SPEED05, OBS_20_SPEED1, OBS_20_SPEED15, OBS_20_SPEED2, OBS_20_SPEED25]);

new Chart(document.getElementById('chartB'), {
  type: 'scatter',
  data: { datasets: dsB },
  options: {
    responsive: false, animation: false, devicePixelRatio: 1,
    layout: { padding: { top: 31, right: 0, bottom: 0, left: 0 } },
    plugins: { legend: { display: false }, tooltip: { enabled: false }, frame: { color: '#111', width: 2 } },
    scales: {
      x: {
        type: 'linear', min: 0.4, max: 2.6,
        afterBuildTicks: (s) => { s.ticks = [1, 2].map(v => ({ value: v })); },
        afterFit: fixX,
        ticks: { callback: (v, i) => TEMPS[i], font: { size: 20.5, family: FONT }, color: INK, padding: 11, maxRotation: 0, autoSkip: false },
        grid: { drawOnChartArea: false, drawTicks: true, tickLength: 5, tickColor: '#111', tickWidth: 1.6 },
        border: { display: false }
      },
      y: pctAxis('#111')
    }
  },
  plugins: [frame]
});
</script>
</body>
</html>
